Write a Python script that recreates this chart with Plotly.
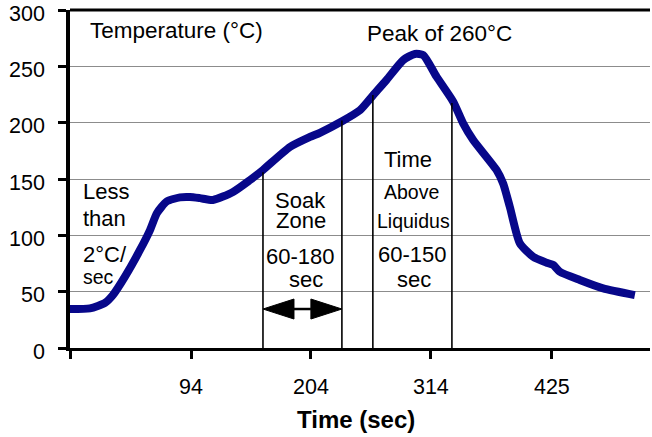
import plotly.graph_objects as go

# ---- data ----
time_s = [-17, 1.3, 15.1, 22.4, 33.4, 47.2, 56.4, 62.8, 71.7, 83.9, 93.0, 102.2, 114.1,
          132.5, 148.0, 160.0, 184.7, 203.1, 212.2, 232.1, 248.9, 261.1, 273.4, 288.6,
          299.3, 307.0, 319.2, 334.5, 343.6, 352.8, 374.2, 380.3, 386.4, 395.6, 407.8,
          420.1, 426.2, 432.3, 450.6, 472.0, 501.1]
temp_c = [34.6, 35.2, 40, 47, 63.3, 87, 104.7, 119.8, 130, 133.7, 134, 133, 131.4,
          138.5, 149, 158, 178.4, 187.3, 191, 201, 211, 224.5, 238, 255.6,
          261, 260, 240.8, 218.6, 199.4, 184.6, 158, 146, 125.4, 93, 81,
          75.7, 73.7, 67.7, 60.4, 53, 47]

marker_x = [160.0, 232.4, 260.8, 333.3]      # zone boundary lines (sec)
marker_top = [156, 202, 224.5, 217.5]        # where each boundary meets the curve (°C)
arrow_span = [160.0, 232.4]                  # soak zone arrow
arrow_level = 34.6

x_tickvals = [-17, 94, 204, 314, 425]
x_ticktext = ["", "94", "204", "314", "425"]
y_tickvals = [0, 50, 100, 150, 200, 250, 300]

X_RANGE = [-17, 515]
Y_RANGE = [0, 300]

FONT = "Liberation Sans, Arial, sans-serif"
NAVY = "#07078a"

fig = go.Figure()

fig.add_trace(go.Scatter(x=time_s, y=temp_c, mode="lines",
                         line=dict(color=NAVY, width=8, shape="spline", smoothing=0.6),
                         hoverinfo="skip", showlegend=False))

# zone boundary lines
for xv, top in zip(marker_x, marker_top):
    fig.add_shape(type="line", xref="x", yref="y", x0=xv, x1=xv, y0=0, y1=top,
                  line=dict(color="black", width=1.6), layer="above")

# double-headed arrow (filled heads)
px_per_x = 580 / (X_RANGE[1] - X_RANGE[0])
px_per_y = 338 / (Y_RANGE[1] - Y_RANGE[0])
head_len = 31 / px_per_x
head_half = 10 / px_per_y
a0, a1 = arrow_span
fig.add_trace(go.Scatter(x=[a0 + head_len, a1 - head_len], y=[arrow_level, arrow_level],
                         mode="lines", line=dict(color="black", width=2.5),
                         hoverinfo="skip", showlegend=False))
fig.add_trace(go.Scatter(x=[a0, a0 + head_len, a0 + head_len, a0],
                         y=[arrow_level, arrow_level + head_half, arrow_level - head_half, arrow_level],
                         mode="lines", fill="toself", fillcolor="black",
                         line=dict(color="black", width=1), hoverinfo="skip", showlegend=False))
fig.add_trace(go.Scatter(x=[a1, a1 - head_len, a1 - head_len, a1],
                         y=[arrow_level, arrow_level + head_half, arrow_level - head_half, arrow_level],
                         mode="lines", fill="toself", fillcolor="black",
                         line=dict(color="black", width=1), hoverinfo="skip", showlegend=False))

# text labels
labels = [
    ("Temperature (°C)", -0.5, 281.8, "left", 22.5),
    ("Peak of 260°C", 253.5, 279.1, "left", 22.5),
    ("Less", -6.5, 138.9, "left", 22),
    ("than", -6.5, 114.9, "left", 22),
    ("2°C/", -6.5, 83.0, "left", 22),
    ("sec", -6.5, 62.6, "left", 19.5),
    ("Soak", 194.8, 131.1, "center", 22),
    ("Zone", 194.8, 113.2, "center", 22),
    ("60-180", 194.8, 81.2, "center", 22),
    ("sec", 199.4, 61.2, "center", 22),
    ("Time", 293.4, 166.9, "center", 22),
    ("Above", 296.1, 138.7, "center", 19.5),
    ("Liquidus", 298.4, 113.0, "center", 19.5),
    ("60-150", 297.0, 83.4, "center", 22),
    ("sec", 298.4, 61.2, "center", 22),
]
for txt, xv, yv, anc, size in labels:
    fig.add_annotation(x=xv, y=yv, xref="x", yref="y", text=txt, showarrow=False,
                       xanchor=anc, yanchor="middle",
                       font=dict(family=FONT, size=size, color="black"))

# axis title
fig.add_annotation(x=245.2, y=-0.213, xref="x", yref="paper", text="<b>Time (sec)</b>",
                   showarrow=False, xanchor="center", yanchor="middle",
                   font=dict(family=FONT, size=24, color="black"))

# top border
fig.add_shape(type="line", xref="paper", yref="paper", x0=0, x1=1, y0=1, y1=1,
              line=dict(color="black", width=3))

fig.update_layout(
    width=652, height=437,
    margin=dict(l=70, r=2, t=10, b=89, autoexpand=False),
    paper_bgcolor="white", plot_bgcolor="white",
    showlegend=False,
    xaxis=dict(range=X_RANGE, tickmode="array", tickvals=x_tickvals, ticktext=x_ticktext,
               automargin=False,
               showgrid=False, zeroline=False, showline=True, linecolor="black", linewidth=3,
               ticks="outside", ticklen=8, tickwidth=2.5, tickcolor="black",
               ticklabelstandoff=9, ticklabeloverflow="allow",
               tickfont=dict(family=FONT, size=21.5, color="black")),
    yaxis=dict(range=Y_RANGE, tickmode="array", tickvals=y_tickvals,
               automargin=False,
               showgrid=True, gridcolor="#8c8c8c", gridwidth=1, zeroline=False,
               showline=True, linecolor="black", linewidth=3.5,
               ticks="outside", ticklen=8, tickwidth=2.5, tickcolor="black",
               ticklabelstandoff=9, ticklabelshift=3, ticklabeloverflow="allow",
               tickfont=dict(family=FONT, size=21.5, color="black")),
)

fig.write_html("out.html", config={"displayModeBar": False},
               post_script="document.body.style.margin='0';")
